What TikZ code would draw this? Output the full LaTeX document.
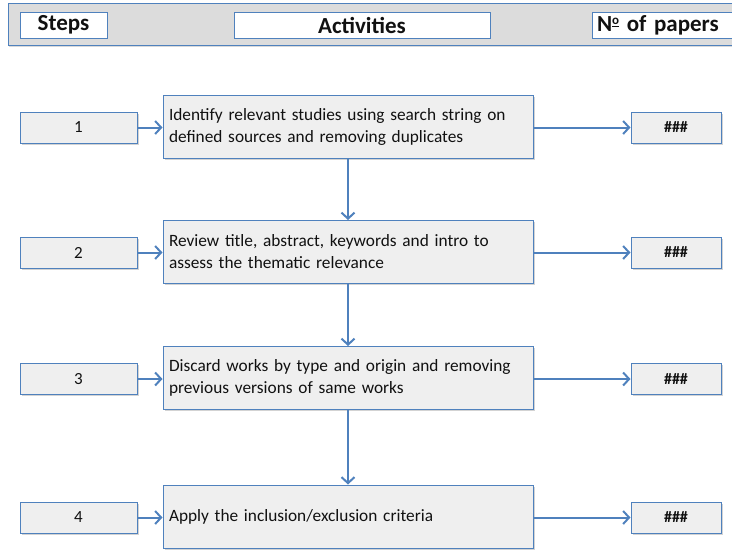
\documentclass[tikz,border=0pt]{standalone}
\usepackage{fontspec}
\setmainfont{Carlito}
\usetikzlibrary{arrows.meta,shadows}
\definecolor{bordblue}{HTML}{4F81BD}
\definecolor{boxfill}{HTML}{EFEFEF}
\definecolor{barfill}{HTML}{DCDCDC}
\definecolor{txt}{HTML}{111111}
\tikzset{
  boxbase/.style={draw=bordblue, line width=1pt, fill=boxfill, inner sep=0pt, text=txt,
    drop shadow={shadow xshift=1.5pt, shadow yshift=-1.5pt, opacity=0.35}},
  stepbox/.style={boxbase, minimum width=117pt, minimum height=31pt, font=\fontsize{17}{20}\selectfont},
  actbox/.style={boxbase, minimum width=370pt, minimum height=63pt, text width=358pt, align=left, font=\fontsize{17.3}{22}\selectfont},
  numbox/.style={boxbase, minimum width=90pt, minimum height=31pt, font=\bfseries\fontsize{16}{19}\selectfont},
  headbox/.style={draw=bordblue, line width=1pt, fill=white, inner sep=0pt, minimum height=26pt, text=txt, font=\bfseries\fontsize{23}{26}\selectfont,
    drop shadow={shadow xshift=1pt, shadow yshift=-1pt, opacity=0.3}},
  conn/.style={draw=bordblue, line width=2pt, -{Straight Barb[length=6pt,width=13pt,line width=2pt]}}
}
\begin{document}
\begin{tikzpicture}[x=1pt,y=-1pt]
\useasboundingbox (0,0) rectangle (732,550);
% header bar
\draw[draw=bordblue, line width=1pt, fill=barfill, drop shadow={shadow xshift=1pt, shadow yshift=-1.5pt, opacity=0.3}] (8,3) rectangle (745,45);
\node[headbox, minimum width=87pt] (hs) at (63.5,25) {Steps};
\node[headbox, minimum width=256pt] (ha) at (362,25) {Activities};
\node[headbox, minimum width=150pt, anchor=west, align=left, text width=145pt] (hn) at (592,25) {\hspace*{2pt}N\raisebox{0.62ex}{\fontsize{13}{13}\selectfont\underline{o}} of papers};
% rows
\node[stepbox] (s1) at (78.5,127.5) {1};
\node[actbox] (a1) at (348,127) {Identify relevant studies using search string on\\defined sources and removing duplicates};
\node[numbox] (n1) at (676,127.5) {\#\#\#};
\node[stepbox] (s2) at (78.5,252.5) {2};
\node[actbox] (a2) at (348,252) {Review title, abstract, keywords and intro to\\assess the thematic relevance};
\node[numbox] (n2) at (676,252.5) {\#\#\#};
\node[stepbox] (s3) at (78.5,379) {3};
\node[actbox] (a3) at (348,378) {Discard works by type and origin and removing\\previous versions of same works};
\node[numbox] (n3) at (676,379) {\#\#\#};
\node[stepbox] (s4) at (78.5,517.5) {4};
\node[actbox] (a4) at (348,516.5) {Apply the inclusion/exclusion criteria};
\node[numbox] (n4) at (676,517.5) {\#\#\#};
% connectors
\foreach \i in {1,2,3,4} {
  \draw[conn] (s\i.east) -- (s\i.east -| a\i.west);
  \draw[conn] (n\i.west -| a\i.east) -- (n\i.west);
}
\draw[conn] (a1.south) -- (a2.north);
\draw[conn] (a2.south) -- (a3.north);
\draw[conn] (a3.south) -- (a4.north);
\end{tikzpicture}
\end{document}
